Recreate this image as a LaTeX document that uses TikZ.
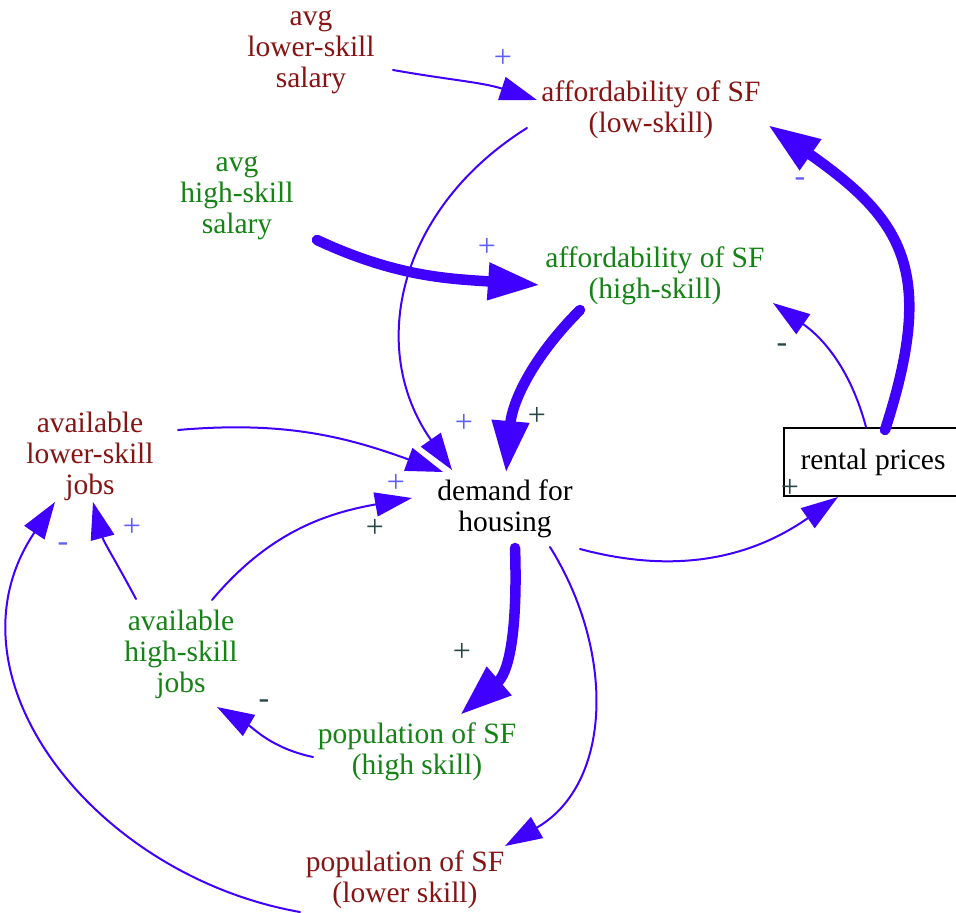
\documentclass[tikz,border=0pt]{standalone}
\usepackage{fontspec}
\setmainfont{Liberation Serif}
\usetikzlibrary{arrows.meta,calc}
\definecolor{linkblue}{RGB}{64,0,255}
\definecolor{lowred}{RGB}{135,20,20}
\definecolor{highgreen}{RGB}{20,130,20}
\definecolor{signblue}{RGB}{95,95,255}
\definecolor{signdark}{RGB}{40,70,70}
\begin{document}
\begin{tikzpicture}[x=1pt,y=1pt,
  var/.style={align=center,font=\fontsize{29.5}{31}\selectfont,inner sep=0pt},
  lowvar/.style={var,text=lowred},
  highvar/.style={var,text=highgreen},
  plainvar/.style={var,text=black},
  stockbox/.style={var,text=black,draw=black,line width=1.6pt,
    minimum width=178pt,minimum height=68pt},
  link/.style={draw=linkblue,line width=2pt,line cap=round,
    -{Triangle[length=37pt,width=24pt]}},
  strong/.style={draw=linkblue,line width=10.5pt,line cap=round,
    -{Triangle[length=52pt,width=35pt]}},
  sgn/.style={font=\fontsize{32}{32}\selectfont,inner sep=0pt},
  signb/.style={sgn,text=signblue},
  signk/.style={sgn,text=signdark}]
\useasboundingbox (0,0) rectangle (956,-913);

% variables
\node[lowvar]   (lsal)     at (311,-52)  {avg\\lower-skill\\salary};
\node[lowvar]   (afflow)   at (651,-110) {affordability of SF\\(low-skill)};
\node[highvar]  (hsal)     at (237,-198) {avg\\high-skill\\salary};
\node[highvar]  (affhigh)  at (655,-276) {affordability of SF\\(high-skill)};
\node[lowvar]   (lowjobs)  at (90,-456)  {available\\lower-skill\\jobs};
\node[plainvar] (demand)   at (505,-509) {demand for\\housing};
\node[stockbox] (rent)     at (873,-462) {rental prices};
\node[highvar]  (highjobs) at (181,-654) {available\\high-skill\\jobs};
\node[highvar]  (pophigh)  at (417,-752) {population of SF\\(high skill)};
\node[lowvar]   (poplow)   at (405,-880) {population of SF\\(lower skill)};

% causal links
\draw[link]   ($(lsal)+(82,-18)$)      to[out=-10,in=162] ($(afflow)+(-114,10)$);
\draw[link]   ($(afflow)+(-124,-18)$)  to[out=212,in=125,looseness=1.1] ($(demand)+(-53,39)$);
\draw[strong] ($(hsal)+(80,-42)$)      to[out=-25,in=176] ($(affhigh)+(-115,-9)$);
\draw[strong] ($(affhigh)+(-75,-34)$)  to[out=225,in=85]  ($(demand)+(1,36)$);
\draw[strong] ($(rent)+(12,32)$)       to[out=72,in=-35,looseness=1.3] ($(afflow)+(117,-15)$);
\draw[link]   ($(rent)+(-7,35)$)       to[out=105,in=-35] ($(affhigh)+(118,-27)$);
\draw[link]   ($(lowjobs)+(88,26)$)    to[out=5,in=160]   ($(demand)+(-62,37)$);
\draw[link]   ($(highjobs)+(31,54)$)   to[out=50,in=190]  ($(demand)+(-93,11)$);
\draw[link]   ($(highjobs)+(-45,55)$)  to[out=118,in=-75] ($(lowjobs)+(3,-46)$);
\draw[link]   ($(poplow)+(-105,-32)$)  to[out=170,in=236,looseness=1.12] ($(lowjobs)+(-35,-46)$);
\draw[link]   ($(demand)+(75,-40)$)    to[out=-15,in=215] ($(rent)+(-35,-35)$);
\draw[strong] ($(demand)+(10,-39)$)    to[out=-88,in=41]  ($(pophigh)+(43,37)$);
\draw[link]   ($(demand)+(45,-38)$)    to[out=-58,in=30,looseness=1.05] ($(poplow)+(100,34)$);
\draw[link]   ($(pophigh)+(-104,-5)$)  to[out=168,in=-30] ($(highjobs)+(36,-53)$);

% link polarities
\node[signb] (s1)  at (503,-58)  {+};
\node[signb] (s2)  at (487,-247) {+};
\node[signb] (s3)  at (800,-182) {-};
\node[signk] (s4)  at (782,-348) {-};
\node[signb] (s5)  at (464,-423) {+};
\node[signk] (s6)  at (537,-416) {+};
\node[signb] (s7)  at (396,-483) {+};
\node[signk] (s8)  at (375,-528) {+};
\node[signb] (s9)  at (132,-527) {+};
\node[signb] (s10) at (63,-547)  {-};
\node[signk] (s11) at (790,-488) {+};
\node[signk] (s12) at (462,-652) {+};
\node[signk] (s13) at (264,-704) {-};
\end{tikzpicture}
\end{document}
